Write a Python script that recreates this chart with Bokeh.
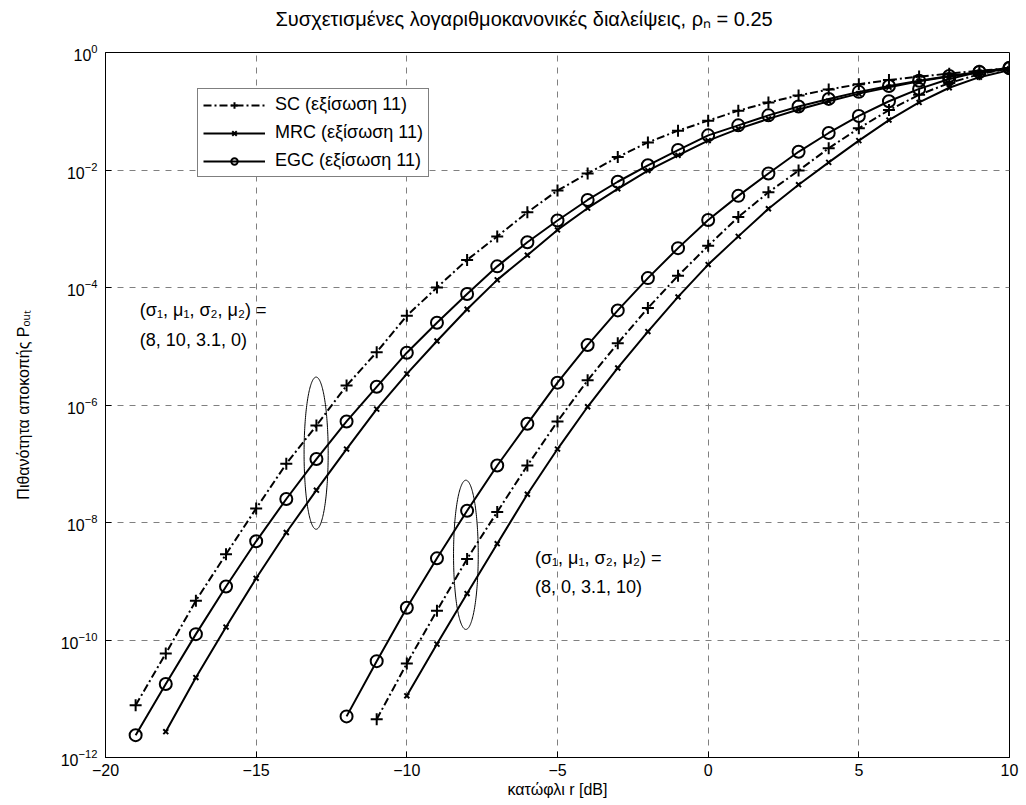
import numpy as np
from bokeh.plotting import figure
from bokeh.models import (Label, Legend, LegendItem, FixedTicker, Range1d,
                          LogTickFormatter)
from bokeh.embed import file_html
from bokeh.resources import INLINE

# ---------------- data (threshold r in dB, log10 of outage probability) -------------
# group A: (sigma1, mu1, sigma2, mu2) = (8, 10, 3.1, 0)
sc_a_x = list(range(-19, 11))
sc_a_log = [-11.11, -10.23, -9.33, -8.54, -7.76, -7.00, -6.35, -5.67, -5.10, -4.48,
            -4.00, -3.53, -3.13, -2.72, -2.35, -2.06, -1.78, -1.53, -1.33, -1.16,
            -0.99, -0.85, -0.73, -0.63, -0.54, -0.47, -0.41, -0.36, -0.31, -0.27]
mrc_a_x = list(range(-18, 11))
mrc_a_log = [-11.56, -10.64, -9.78, -8.95, -8.17, -7.45, -6.75, -6.07, -5.47, -4.91,
             -4.37, -3.87, -3.45, -3.02, -2.65, -2.32, -2.01, -1.75, -1.50, -1.30,
             -1.13, -0.97, -0.83, -0.70, -0.59, -0.49, -0.41, -0.34, -0.28]
egc_a_x = list(range(-19, 11))
egc_a_log = [-11.62, -10.75, -9.90, -9.09, -8.32, -7.60, -6.92, -6.28, -5.69, -5.11,
             -4.60, -4.11, -3.64, -3.23, -2.86, -2.51, -2.20, -1.92, -1.66, -1.41,
             -1.24, -1.07, -0.92, -0.79, -0.67, -0.57, -0.48, -0.40, -0.33, -0.27]
# group B: (sigma1, mu1, sigma2, mu2) = (8, 0, 3.1, 10)
sc_b_x = list(range(-11, 11))
sc_b_log = [-11.35, -10.40, -9.50, -8.62, -7.82, -7.03, -6.28, -5.58, -4.95, -4.35,
            -3.80, -3.29, -2.80, -2.38, -2.01, -1.63, -1.29, -0.98, -0.72, -0.52,
            -0.37, -0.27]
mrc_b_x = list(range(-10, 11))
mrc_b_log = [-10.95, -10.07, -9.21, -8.36, -7.52, -6.75, -6.03, -5.37, -4.75, -4.16,
             -3.61, -3.13, -2.66, -2.25, -1.87, -1.50, -1.15, -0.85, -0.60, -0.42,
             -0.30]
egc_b_x = list(range(-12, 11))
egc_b_log = [-11.30, -10.36, -9.45, -8.61, -7.80, -7.03, -6.32, -5.62, -4.98, -4.39,
             -3.84, -3.33, -2.85, -2.44, -2.06, -1.69, -1.37, -1.08, -0.83, -0.62,
             -0.45, -0.33, -0.26]

x_ticks = [-20, -15, -10, -5, 0, 5, 10]
y_ticks = [1e-12, 1e-10, 1e-8, 1e-6, 1e-4, 1e-2, 1e0]

title_text = "Συσχετισμένες λογαριθμοκανονικές διαλείψεις, ρₙ = 0.25"
xlabel = "κατώφλι r [dB]"
ylabel = "Πιθανότητα αποκοπής Pₒᵤₜ"
legend_labels = ["SC (εξίσωση 11)", "MRC (εξίσωση 11)", "EGC (εξίσωση 11)"]
note_a = ["(σ₁, μ₁, σ₂, μ₂) =", "(8, 10, 3.1, 0)"]
note_b = ["(σ₁, μ₁, σ₂, μ₂) =", "(8, 0, 3.1, 10)"]

FONT = "Liberation Sans"

def P(logs):
    return [10.0 ** v for v in logs]

p = figure(width=1026, height=805, y_axis_type="log",
           x_range=Range1d(-20, 10), y_range=Range1d(1e-12, 1),
           output_backend="svg", toolbar_location=None,
           min_border_left=105, min_border_right=17,
           min_border_top=52, min_border_bottom=48)
p.background_fill_color = "white"
p.border_fill_color = "white"
p.outline_line_color = "black"
p.outline_line_width = 1

p.title.text = title_text + "\n "
p.title.text_font = FONT
p.title.text_font_size = "20px"
p.title.text_font_style = "normal"
p.title.text_color = "black"
p.title.align = "left"
p.title.offset = 170
p.title.standoff = 2

p.xaxis.ticker = FixedTicker(ticks=x_ticks, minor_ticks=[])
p.yaxis.ticker = FixedTicker(ticks=y_ticks, minor_ticks=[])
p.yaxis.formatter = LogTickFormatter()
for ax in (p.xaxis, p.yaxis):
    ax.major_tick_in = 6
    ax.major_tick_out = 0
    ax.minor_tick_in = 0
    ax.minor_tick_out = 0
    ax.axis_line_color = "black"
    ax.major_tick_line_color = "black"
    ax.major_label_text_font = FONT
    ax.major_label_text_font_size = "16px"
    ax.major_label_text_color = "black"
    ax.axis_label_text_font = FONT
    ax.axis_label_text_font_size = "16px"
    ax.axis_label_text_font_style = "normal"
    ax.axis_label_text_color = "black"
p.xaxis.major_label_standoff = 6
p.yaxis.major_label_standoff = 8
p.xaxis.axis_label = xlabel
p.xaxis.axis_label_standoff = 2
p.yaxis.axis_label = ylabel
p.yaxis.axis_label_standoff = 26

for g in (p.xgrid, p.ygrid):
    g.grid_line_color = "#808080"
    g.grid_line_dash = "6 6"
    g.grid_line_width = 1
p.xgrid.ticker = FixedTicker(ticks=x_ticks)
p.ygrid.ticker = FixedTicker(ticks=y_ticks)

SC_DASH = "8 3 2 3"
renders = {}
series = [
    ("SC", sc_a_x, sc_a_log, SC_DASH, "cross", 12),
    ("SC", sc_b_x, sc_b_log, SC_DASH, "cross", 12),
    ("MRC", mrc_a_x, mrc_a_log, "solid", "x", 7),
    ("MRC", mrc_b_x, mrc_b_log, "solid", "x", 7),
    ("EGC", egc_a_x, egc_a_log, "solid", "circle", 12),
    ("EGC", egc_b_x, egc_b_log, "solid", "circle", 12),
]
for name, xs, ls, dash, marker, size in series:
    ys = P(ls)
    lr = p.line(xs, ys, line_color="black", line_width=2, line_dash=dash)
    mr = p.scatter(xs, ys, marker=marker, size=size, line_color="black",
                   line_width=2, fill_color=None)
    renders.setdefault(name, [lr, mr])

# ellipses marking the two curve groups
t = np.linspace(0, 2 * np.pi, 200)
for xc, lc, a, b in [(-13.01, -6.82, 0.40, 1.295), (-8.04, -8.55, 0.41, 1.27)]:
    ex = xc + a * np.cos(t)
    ey = 10.0 ** (lc + b * np.sin(t))
    p.line(ex, ey, line_color="black", line_width=1)

legend = Legend(items=[LegendItem(label=legend_labels[0], renderers=renders["SC"]),
                       LegendItem(label=legend_labels[1], renderers=renders["MRC"]),
                       LegendItem(label=legend_labels[2], renderers=renders["EGC"])],
                location=(92, 580))
legend.margin = 0
legend.padding = 5
legend.spacing = 7
legend.label_height = 16
legend.glyph_height = 16
legend.glyph_width = 62
legend.label_standoff = 10
legend.label_text_font = FONT
legend.label_text_font_size = "18px"
legend.label_text_color = "black"
legend.border_line_color = "black"
legend.border_line_width = 1
legend.background_fill_color = "white"
legend.background_fill_alpha = 1
p.add_layout(legend, "center")

# parameter notes (data coordinates)
for (xl, l1, l2), lines in [((-18.86, -4.39, -4.90), note_a), ((-5.75, -8.60, -9.09), note_b)]:
    for yl, txt in [(l1, lines[0]), (l2, lines[1])]:
        p.add_layout(Label(x=xl, y=10.0 ** yl, text=txt, text_font=FONT,
                           text_font_size="18px", text_baseline="middle",
                           text_align="left", text_color="black"))

open("out.html", "w").write(file_html(p, INLINE))
